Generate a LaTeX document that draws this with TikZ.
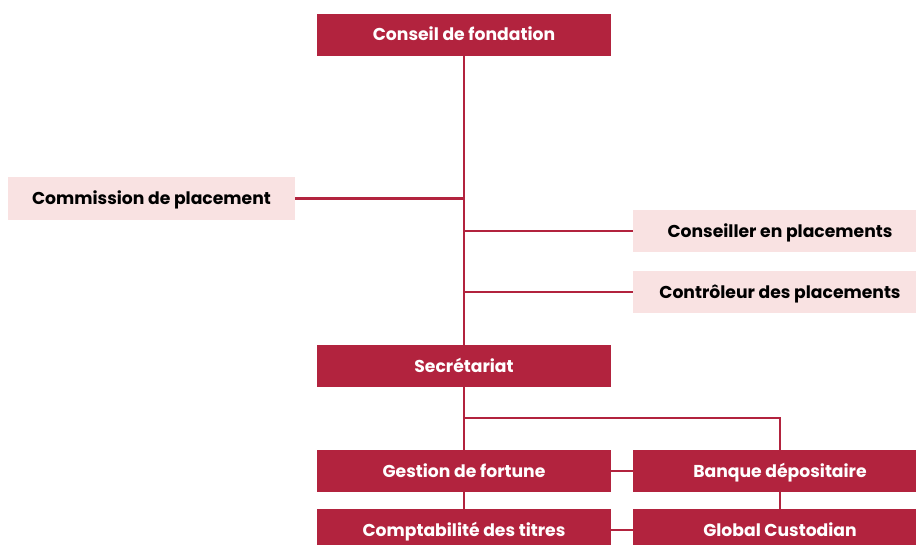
\documentclass[tikz,border=0pt]{standalone}
\usepackage{fontspec}
\setmainfont{Poppins}
\definecolor{dred}{RGB}{178,35,62}
\definecolor{lpink}{RGB}{249,226,226}
\begin{document}
\begin{tikzpicture}[x=1pt,y=-1pt,
  boxbase/.style={minimum width=294pt,minimum height=42pt,inner sep=0pt,text height=16pt,text depth=4pt,font=\fontsize{17.2}{19}\selectfont\bfseries},
  darkbox/.style={boxbase,fill=dred,text=white},
  pinkbox/.style={boxbase,fill=lpink,text=black},
  conn/.style={draw=dred,line width=2.6pt}]
\useasboundingbox (0,0) rectangle (916,544);
\clip (0,0) rectangle (916,544);
\node[darkbox] (top) at (464,34.5) {Conseil de fondation};
\node[pinkbox,minimum width=287pt,minimum height=43pt] (comm) at (151.5,198.5) {Commission de placement};
\node[pinkbox] (cons) at (780,231) {Conseiller en placements};
\node[pinkbox] (ctrl) at (780,292) {Contrôleur des placements};
\node[darkbox] (sec) at (464,366) {Secrétariat};
\node[darkbox] (gest) at (464,471) {Gestion de fortune};
\node[darkbox] (banq) at (780,471) {Banque dépositaire};
\node[darkbox] (comp) at (464,530) {Comptabilité des titres};
\node[darkbox] (glob) at (780,530) {Global Custodian};
\coordinate (j) at (464,418);
\draw[conn] (top.south) -- (sec.north);
\draw[conn] (comm.east) -- (comm.east -| top.south);
\draw[conn] (cons.west) -- (cons.west -| top.south);
\draw[conn] (ctrl.west) -- (ctrl.west -| top.south);
\draw[conn] (sec.south) -- (gest.north);
\draw[conn] (j) -| (banq.north);
\draw[conn] (gest.east) -- (banq.west);
\draw[conn] (comp.east) -- (glob.west);
\draw[conn] (gest.south) -- (comp.north);
\draw[conn] (banq.south) -- (glob.north);
\end{tikzpicture}
\end{document}
